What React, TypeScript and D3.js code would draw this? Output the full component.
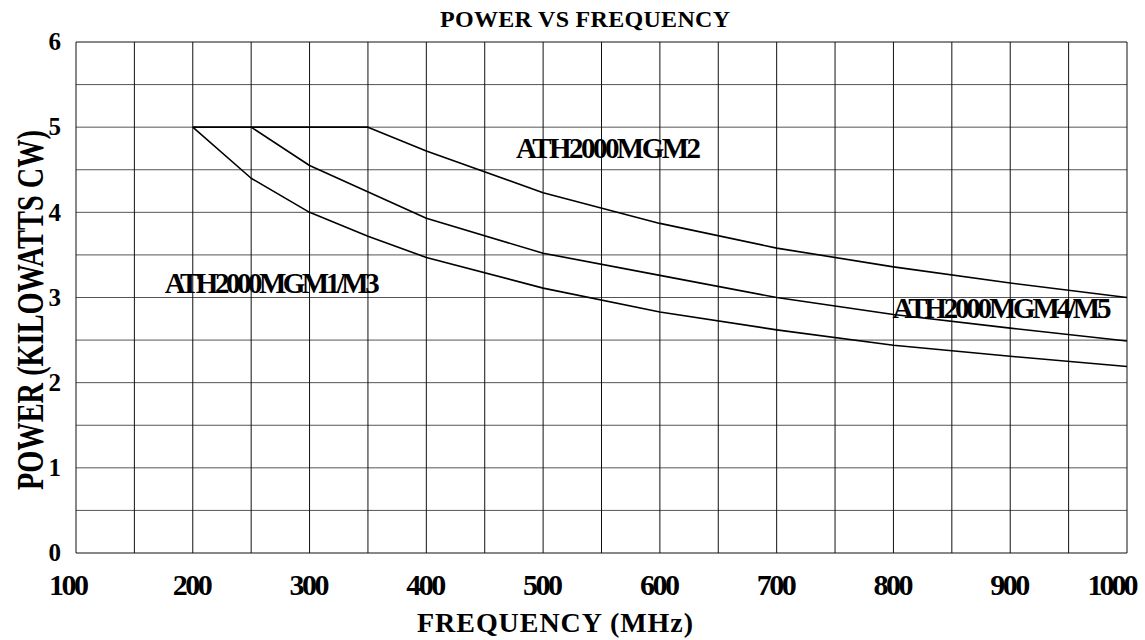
import React from "react";
import * as d3 from "d3";

// --- Data ---
const FREQ_MGM13 = [200, 250, 300, 350, 400, 500, 600, 700, 800, 900, 1000];
const POWER_MGM13 = [5, 4.4, 4.0, 3.72, 3.47, 3.11, 2.83, 2.62, 2.44, 2.31, 2.19];

const FREQ_MGM45 = [250, 300, 400, 500, 600, 700, 800, 900, 1000];
const POWER_MGM45 = [5, 4.55, 3.93, 3.52, 3.26, 3.0, 2.8, 2.64, 2.49];

const FREQ_MGM2 = [200, 350, 400, 500, 600, 700, 800, 900, 1000];
const POWER_MGM2 = [5, 5, 4.72, 4.23, 3.87, 3.58, 3.36, 3.17, 3.0];

const X_TICKS = [100, 200, 300, 400, 500, 600, 700, 800, 900, 1000];
const Y_TICKS = [0, 1, 2, 3, 4, 5, 6];
const X_GRID = d3.range(100, 1001, 50);
const Y_GRID = d3.range(0, 6.01, 0.5);

const LABELS = [
  { text: "ATH2000MGM2", x: 556, y: 4.64, len: 185 },
  { text: "ATH2000MGM1/M3", x: 268, y: 3.05, len: 215 },
  { text: "ATH2000MGM4/M5", x: 893, y: 2.76, len: 219 },
];

const W = 1145;
const H = 640;
const M = { left: 76, right: 18, top: 42, bottom: 87 };
const FONT = "'Liberation Serif', 'Times New Roman', serif";

export default function App() {
  const x = d3.scaleLinear().domain([100, 1000]).range([M.left, W - M.right]);
  const y = d3.scaleLinear().domain([0, 6]).range([H - M.bottom, M.top]);

  const line = d3
    .line<[number, number]>()
    .x((d) => x(d[0]))
    .y((d) => y(d[1]));

  const series = [
    d3.zip(FREQ_MGM13, POWER_MGM13) as [number, number][],
    d3.zip(FREQ_MGM45, POWER_MGM45) as [number, number][],
    d3.zip(FREQ_MGM2, POWER_MGM2) as [number, number][],
  ];

  // tick labels are squeezed together like the original
  const tickLen = (t: number) => (t >= 1000 ? 51 : 40);
  const tickShift = (t: number) => (t === 100 ? -7 : t === 1000 ? -14 : 0);

  return (
    <svg
      width={W}
      height={H}
      style={{ position: "absolute", left: 0, top: 0, background: "#fff" }}
      fontFamily={FONT}
      fontWeight="bold"
    >
      {/* grid */}
      {Y_GRID.map((v) => (
        <line
          key={"h" + v}
          x1={x(100)}
          x2={x(1000)}
          y1={y(v)}
          y2={y(v)}
          stroke={v === 0 || v === 6 ? "#111" : "#555"}
          strokeWidth={1}
        />
      ))}
      {X_GRID.map((v) => (
        <line
          key={"v" + v}
          x1={x(v)}
          x2={x(v)}
          y1={y(0)}
          y2={y(6)}
          stroke="#111"
          strokeWidth={1}
        />
      ))}

      {/* curves */}
      {series.map((s, i) => (
        <path
          key={i}
          d={line(s) || ""}
          fill="none"
          stroke="#000"
          strokeWidth={1.6}
          strokeLinejoin="round"
        />
      ))}

      {/* curve labels */}
      {LABELS.map((l) => (
        <text
          key={l.text}
          x={x(l.x)}
          y={y(l.y)}
          textAnchor="middle"
          fontSize={29}
          textLength={l.len}
          lengthAdjust="spacing"
        >
          {l.text}
        </text>
      ))}

      {/* y ticks */}
      {Y_TICKS.map((t) => (
        <text
          key={"yt" + t}
          x={61}
          y={y(t)}
          dy="0.33em"
          textAnchor="end"
          fontSize={25}
        >
          {t}
        </text>
      ))}

      {/* x ticks */}
      {X_TICKS.map((t) => (
        <text
          key={"xt" + t}
          x={x(t) + tickShift(t)}
          y={595}
          textAnchor="middle"
          fontSize={30}
          textLength={tickLen(t)}
          lengthAdjust="spacing"
        >
          {t}
        </text>
      ))}

      {/* title */}
      <text
        x={585}
        y={27}
        textAnchor="middle"
        fontSize={24}
        textLength={290}
        lengthAdjust="spacing"
      >
        POWER VS FREQUENCY
      </text>

      {/* x axis title */}
      <text
        x={555}
        y={632}
        textAnchor="middle"
        fontSize={28}
        textLength={276}
        lengthAdjust="spacing"
      >
        FREQUENCY (MHz)
      </text>

      {/* y axis title */}
      <text
        transform={`translate(43, 310) rotate(-90)`}
        textAnchor="middle"
        fontSize={38}
        textLength={360}
        lengthAdjust="spacingAndGlyphs"
      >
        POWER (KILOWATTS CW)
      </text>
    </svg>
  );
}
